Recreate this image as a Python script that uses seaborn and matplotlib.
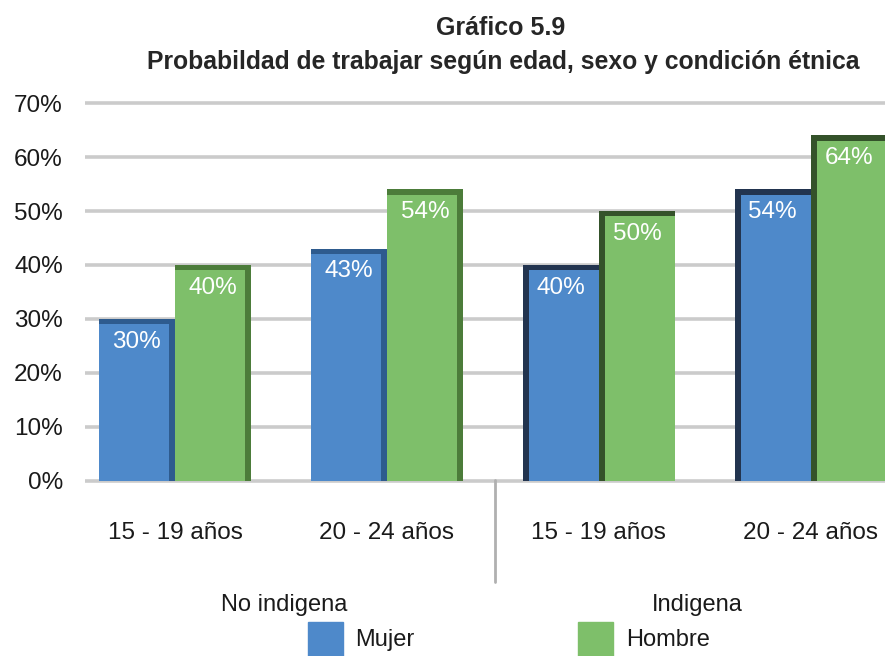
import pandas as pd
import seaborn as sns
import matplotlib.pyplot as plt
from matplotlib.patches import Rectangle

# datos
edades = ['15 - 19 años', '20 - 24 años', '15 - 19 años ', '20 - 24 años ']
mujer = [30, 43, 40, 54]
hombre = [40, 54, 50, 64]
yticks = [0, 10, 20, 30, 40, 50, 60, 70]

df = pd.DataFrame({
    'grupo': edades * 2,
    'sexo': ['Mujer'] * 4 + ['Hombre'] * 4,
    'valor': mujer + hombre,
})

sns.set_style('white')
plt.rcParams['font.family'] = ['Liberation Sans', 'DejaVu Sans']

AZUL, VERDE = '#4e89ca', '#7ebf6a'

fig = plt.figure(figsize=(8.85, 6.56), dpi=100)
ax = fig.add_axes([85 / 885, 1 - 517 / 656, 800 / 885, (517 - 95) / 656])

sns.barplot(data=df, x='grupo', y='valor', hue='sexo',
            palette={'Mujer': AZUL, 'Hombre': VERDE}, saturation=1,
            width=0.72, ax=ax, legend=False, zorder=3)

# gridlines grises gruesas
for t in yticks:
    ax.axhline(t, color='#cbcbcb', lw=2.6, zorder=1)

ax.set_ylim(-6.7, 71.5)
ax.set_xlim(-0.425, 3.35)
ax.set_yticks(yticks)
ax.set_yticklabels([f'{t}%' for t in yticks], fontsize=17.5, color='#1a1a1a')
ax.tick_params(axis='y', length=0, pad=16)
ax.set_xticks([])
ax.set_xlabel('')
ax.set_ylabel('')
sns.despine(ax=ax, left=True, bottom=True)

# caras laterales / superiores oscuras y etiquetas de valores
for p in ax.patches:
    h = p.get_height()
    if h <= 0:
        continue
    fc = p.get_facecolor()
    p.set_edgecolor('none')
    x0, w = p.get_x(), p.get_width()
    es_azul = fc[2] > fc[1]
    izq = x0 + w / 2 < 1.5
    if izq:
        lado = '#2e5b8e' if es_azul else '#4c7c3a'
        sx = x0 + w - 0.03
    else:
        lado = '#22344f' if es_azul else '#34522a'
        sx = x0
    ax.add_patch(Rectangle((sx, 0), 0.03, h, color=lado, zorder=4, lw=0))
    ax.add_patch(Rectangle((x0, h - 1.0), w, 1.0, color=lado, zorder=4, lw=0))
    ax.text(x0 + w / 2, h - 4.2, f'{h:.0f}%', ha='center', va='center',
            color='white', fontsize=17.5, zorder=5)

# etiquetas de categorias
for i, e in enumerate(edades):
    ax.text(i, -9.6, e.strip(), ha='center', va='center', fontsize=17.5,
            color='#1a1a1a', clip_on=False)
fig.text(284 / 885, 1 - 605 / 656, 'No indigena', ha='center', va='center',
         fontsize=17, color='#1a1a1a')
fig.text(697 / 885, 1 - 605 / 656, 'Indigena', ha='center', va='center',
         fontsize=17, color='#1a1a1a')
fig.add_artist(plt.Line2D([495 / 885, 495 / 885], [1 - 480 / 656, 1 - 582 / 656],
                          color='#b0b0b0', lw=2))

# leyenda
fig.patches.append(Rectangle((308 / 885, 0), 35 / 885, 34 / 656, color=AZUL,
                             transform=fig.transFigure))
fig.text(355 / 885, 1 - 640 / 656, 'Mujer', va='center', fontsize=17, color='#1a1a1a')
fig.patches.append(Rectangle((578 / 885, 0), 35 / 885, 34 / 656, color=VERDE,
                             transform=fig.transFigure))
fig.text(626 / 885, 1 - 640 / 656, 'Hombre', va='center', fontsize=17, color='#1a1a1a')

# titulo
fig.text(501 / 885, 1 - 28 / 656, 'Gráfico 5.9', ha='center', va='center',
         fontsize=18, fontweight='bold')
fig.text(503 / 885, 1 - 62 / 656, 'Probabildad de trabajar según edad, sexo y condición étnica',
         ha='center', va='center', fontsize=17.8, fontweight='bold')

plt.savefig('out.png', dpi=100)
